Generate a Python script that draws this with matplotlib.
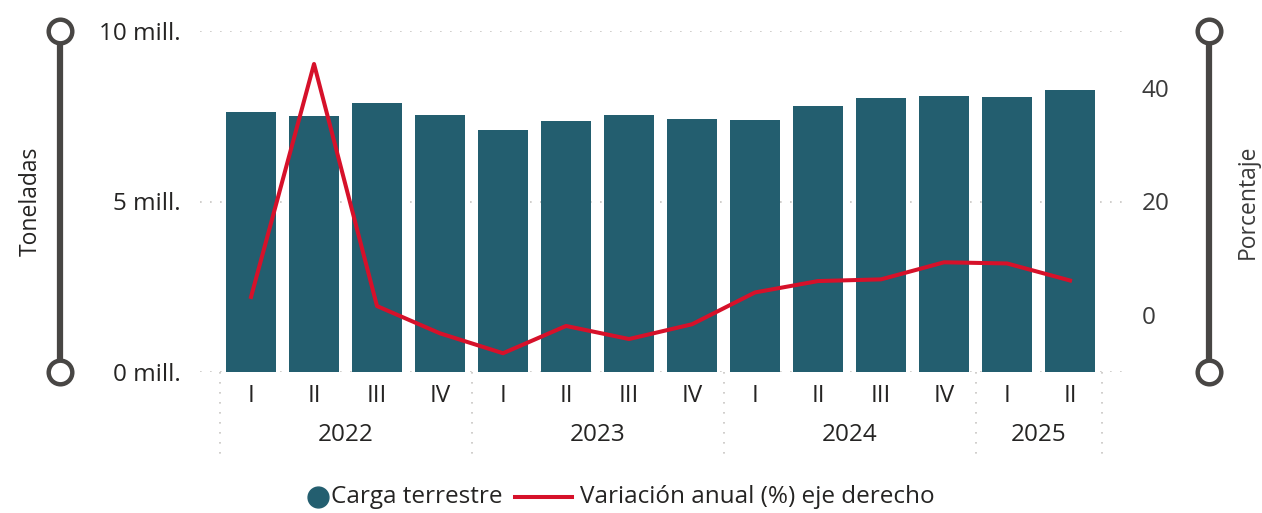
import matplotlib.pyplot as plt
import numpy as np
from matplotlib.lines import Line2D
from matplotlib.ticker import FuncFormatter
import matplotlib.transforms as mtransforms

plt.rcParams['font.family'] = ['Open Sans', 'DejaVu Sans']

# Data
quarters = ["I", "II", "III", "IV", "I", "II", "III", "IV", "I", "II", "III", "IV", "I", "II"]
years = ["2022", "2023", "2024", "2025"]
year_quarters = [4, 4, 4, 2]
carga = [7.62, 7.50, 7.89, 7.54, 7.10, 7.36, 7.54, 7.42, 7.39, 7.80, 8.04, 8.09, 8.06, 8.27]  # millones de toneladas
variacion = [3.2, 44.2, 1.6, -3.2, -6.7, -1.9, -4.2, -1.6, 4.0, 6.0, 6.3, 9.3, 9.1, 6.1]  # %
legend_labels = ["Carga terrestre", "Variación anual (%) eje derecho"]

bar_color = "#235E6F"
line_color = "#D6112A"
text_color = "#252423"
grid_color = "#C8C6C4"
deco_color = "#484644"

W, H = 1262, 513
fig = plt.figure(figsize=(W / 100, H / 100), dpi=100)
ax = fig.add_axes([200 / W, (H - 372) / H, 922 / W, 341 / H])
ax2 = ax.twinx()

x = np.arange(len(carga))
ax.bar(x, np.array(carga) * 1e6, width=0.794, color=bar_color, zorder=2)
ax2.plot(x, variacion, color=line_color, linewidth=2.9, zorder=3)

ax.set_xlim(-0.81, 13.825)
ax.set_ylim(0, 10e6)
ax2.set_ylim(-10, 50)

# left axis
ax.set_yticks([0, 5e6, 10e6])
ax.yaxis.set_major_formatter(FuncFormatter(lambda v, p: f"{v / 1e6:.0f} mill."))
ax.grid(axis="y", color=grid_color, linestyle=(0, (1, 5)), linewidth=1.2, zorder=0)
ax.tick_params(axis="y", length=0, pad=14, labelsize=17.5, labelcolor=text_color)
ax.set_ylabel("Toneladas", fontsize=16.5, color=text_color)
ax.yaxis.set_label_coords((43 - 200) / 922, 0.5)

# right axis
ax2.set_yticks([0, 20, 40])
ax2.tick_params(axis="y", length=0, pad=14, labelsize=17.5, labelcolor="#3a3a3a")
ax2.set_ylabel("Porcentaje", fontsize=16.5, color="#3a3a3a")
ax2.yaxis.set_label_coords(1 + (1236 - 1122) / 922, 0.5)

# quarter labels
ax.set_xticks(x)
ax.set_xticklabels(quarters)
ax.tick_params(axis="x", length=0, pad=9, labelsize=17.5, labelcolor=text_color)

for a in (ax, ax2):
    for s in a.spines.values():
        s.set_visible(False)

# year labels and separators
trans = mtransforms.blended_transform_factory(ax.transData, ax.transAxes)
start = 0
bounds = [-0.5]
for yr, n in zip(years, year_quarters):
    center = start + (n - 1) / 2
    ax.text(center, -0.185, yr, transform=trans, ha="center", va="center",
            fontsize=17.5, color=text_color)
    start += n
    bounds.append(start - 0.5)
for b in bounds:
    ax.plot([b, b], [0, -0.245], transform=trans, color=grid_color,
            linestyle=(0, (1, 5)), linewidth=1.2, clip_on=False)

# decorative axis bars
for px in (60, 1209):
    xf = px / W
    y0, y1 = (H - 372) / H, (H - 31) / H
    fig.add_artist(Line2D([xf, xf], [y0, y1], transform=fig.transFigure,
                          color=deco_color, linewidth=4.5, solid_capstyle="butt"))
    fig.add_artist(Line2D([xf, xf], [y0, y1], transform=fig.transFigure,
                          linestyle="none", marker="o", markersize=17,
                          markerfacecolor="white", markeredgecolor=deco_color,
                          markeredgewidth=3.2))

# legend (drawn by hand to match spacing)
ly = (H - 497) / H
fig.add_artist(Line2D([318 / W], [ly], transform=fig.transFigure, linestyle="none",
                      marker="o", markersize=15, color=bar_color))
t1 = fig.text(331 / W, ly, legend_labels[0], ha="left", va="center",
              fontsize=17.5, color=text_color)
fig.canvas.draw()
bb = t1.get_window_extent()
x1 = bb.x1 + 12
fig.add_artist(Line2D([x1 / W, (x1 + 57) / W], [ly, ly], transform=fig.transFigure,
                      color=line_color, linewidth=2.9))
fig.text((x1 + 65) / W, ly, legend_labels[1], ha="left", va="center",
         fontsize=17.5, color=text_color)

fig.savefig("out.png", dpi=100)
